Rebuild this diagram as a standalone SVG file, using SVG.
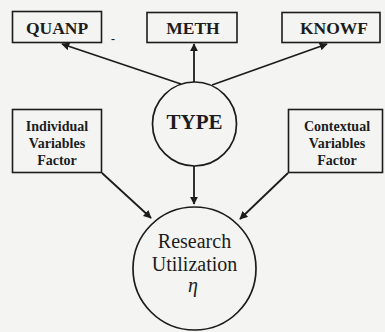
<svg xmlns="http://www.w3.org/2000/svg" width="385" height="332" viewBox="0 0 385 332">
  <style>
    .box { fill: none; stroke: #1c1c1c; stroke-width: 1.6; }
    .circ { fill: none; stroke: #1c1c1c; stroke-width: 1.7; }
    .lbl { font-family: "Liberation Serif", "Times New Roman", serif; font-weight: bold; fill: #1c1c1c; text-anchor: middle; }
    .big { font-size: 17.5px; }
    .small { font-size: 14px; }
    .main { font-family: "Liberation Serif", "Times New Roman", serif; font-size: 20px; fill: #1c1c1c; text-anchor: middle; }
    .edge { stroke: #1c1c1c; stroke-width: 1.8; fill: none; marker-end: url(#arr); }
  </style>
  <defs>
    <marker id="arr" viewBox="0 0 10 10" refX="9" refY="5" markerWidth="4.5" markerHeight="4.5" orient="auto" markerUnits="strokeWidth">
      <path d="M0,0 L10,5 L0,10 z" fill="#1c1c1c"/>
    </marker>
  </defs>
  <rect width="385" height="332" fill="#f4f4f2"/>

  <g id="connectors">
    <line class="edge" x1="181" y1="84" x2="62" y2="44"/>
    <line class="edge" x1="194" y1="82" x2="194" y2="44"/>
    <line class="edge" x1="212" y1="85" x2="327" y2="44"/>
    <line class="edge" x1="194" y1="166" x2="194" y2="204"/>
    <line class="edge" x1="102" y1="173" x2="151" y2="218"/>
    <line class="edge" x1="288" y1="173" x2="240" y2="219"/>
  </g>

  <g id="quanp">
    <rect class="box" x="12.5" y="11.5" width="89" height="31"/>
    <text class="lbl big" x="57" y="34">QUANP</text>
  </g>
  <text class="lbl" x="113" y="43" font-size="12">-</text>

  <g id="meth">
    <rect class="box" x="147" y="12.5" width="90" height="30"/>
    <text class="lbl big" x="193" y="34">METH</text>
  </g>

  <g id="knowf">
    <rect class="box" x="282" y="12.5" width="98" height="30"/>
    <text class="lbl big" x="334" y="34">KNOWF</text>
  </g>

  <g id="type">
    <circle class="circ" cx="194.5" cy="124" r="42"/>
    <text class="lbl" x="194.5" y="129" font-size="21">TYPE</text>
  </g>

  <g id="individual">
    <rect class="box" x="12.5" y="109.5" width="89" height="63"/>
    <text class="lbl small" x="57" y="131">Individual</text>
    <text class="lbl small" x="57" y="148">Variables</text>
    <text class="lbl small" x="57" y="165">Factor</text>
  </g>

  <g id="contextual">
    <rect class="box" x="288.5" y="109.5" width="94" height="63"/>
    <text class="lbl small" x="337" y="131">Contextual</text>
    <text class="lbl small" x="337" y="148">Variables</text>
    <text class="lbl small" x="337" y="165">Factor</text>
  </g>

  <g id="research">
    <circle class="circ" cx="194.5" cy="268.5" r="61.5"/>
    <text class="main" x="194.5" y="248">Research</text>
    <text class="main" x="194.5" y="271">Utilization</text>
    <text class="main" x="193" y="292" font-size="23" font-style="italic">η</text>
  </g>
</svg>
